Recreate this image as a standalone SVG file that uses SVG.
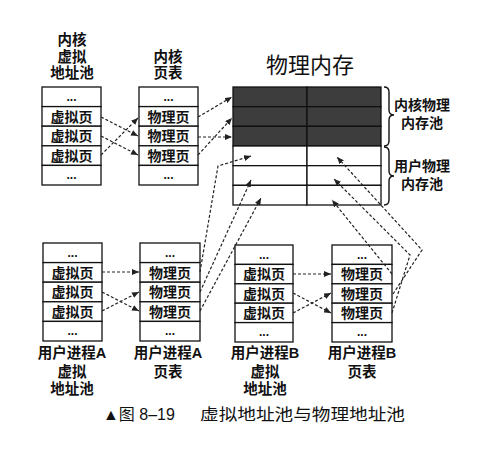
<svg xmlns="http://www.w3.org/2000/svg" width="485" height="451" viewBox="0 0 485 451">
<defs>
<style>
.cell{fill:#fff;stroke:#111;stroke-width:1.3}
.dark{fill:#3d3d3d;stroke:#111;stroke-width:1.3}
.t{font-family:"Liberation Sans","Noto Sans CJK SC",sans-serif;font-size:14px;font-weight:bold;fill:#111;text-anchor:middle}
.dots{font-family:"Liberation Sans",sans-serif;font-size:12px;font-weight:bold;fill:#111;text-anchor:middle}
.lbl{font-family:"Liberation Sans","Noto Sans CJK SC",sans-serif;font-size:14.5px;font-weight:bold;fill:#111;text-anchor:middle}
.title{font-family:"Liberation Sans","Noto Sans CJK SC",sans-serif;font-size:22px;fill:#111;text-anchor:middle}
.cap{font-family:"Liberation Sans","Noto Sans CJK SC",sans-serif;font-size:16px;fill:#111}
.c{fill:none;stroke:#222;stroke-width:1.2;stroke-dasharray:3,2;marker-end:url(#ah)}
.brace{fill:none;stroke:#111;stroke-width:1.4}
</style>
<marker id="ah" markerUnits="userSpaceOnUse" markerWidth="8" markerHeight="6" refX="7" refY="3" orient="auto">
<path d="M0,0 L7,3 L0,6 z" fill="#222"/>
</marker>
</defs>
<rect width="485" height="451" fill="#fff"/>

<g id="kernel-vpool">
<rect class="cell" x="42" y="87" width="59" height="19.6"/>
<rect class="cell" x="42" y="106.6" width="59" height="19.6"/>
<rect class="cell" x="42" y="126.2" width="59" height="19.6"/>
<rect class="cell" x="42" y="145.8" width="59" height="19.6"/>
<rect class="cell" x="42" y="165.4" width="59" height="19.6"/>
<text class="dots" x="71.5" y="101">...</text>
<text class="t" x="71.5" y="121.5">虚拟页</text>
<text class="t" x="71.5" y="141">虚拟页</text>
<text class="t" x="71.5" y="160.5">虚拟页</text>
<text class="dots" x="71.5" y="179">...</text>
<text class="lbl" x="72" y="45">内核</text>
<text class="lbl" x="72" y="61.5">虚拟</text>
<text class="lbl" x="72" y="78">地址池</text>
</g>

<g id="kernel-pt">
<rect class="cell" x="139" y="87" width="59" height="19.6"/>
<rect class="cell" x="139" y="106.6" width="59" height="19.6"/>
<rect class="cell" x="139" y="126.2" width="59" height="19.6"/>
<rect class="cell" x="139" y="145.8" width="59" height="19.6"/>
<rect class="cell" x="139" y="165.4" width="59" height="19.6"/>
<text class="dots" x="168.5" y="101">...</text>
<text class="t" x="168.5" y="121.5">物理页</text>
<text class="t" x="168.5" y="141">物理页</text>
<text class="t" x="168.5" y="160.5">物理页</text>
<text class="dots" x="168.5" y="179">...</text>
<text class="lbl" x="168" y="61.5">内核</text>
<text class="lbl" x="168" y="78">页表</text>
</g>

<g id="phys-mem">
<text class="title" x="310" y="73">物理内存</text>
<rect class="dark" x="233" y="87" width="74" height="19.67"/>
<rect class="dark" x="307" y="87" width="74" height="19.67"/>
<rect class="dark" x="233" y="106.67" width="74" height="19.67"/>
<rect class="dark" x="307" y="106.67" width="74" height="19.67"/>
<rect class="dark" x="233" y="126.33" width="74" height="19.67"/>
<rect class="dark" x="307" y="126.33" width="74" height="19.67"/>
<rect class="cell" x="233" y="146" width="74" height="19.67"/>
<rect class="cell" x="307" y="146" width="74" height="19.67"/>
<rect class="cell" x="233" y="165.67" width="74" height="19.67"/>
<rect class="cell" x="307" y="165.67" width="74" height="19.67"/>
<rect class="cell" x="233" y="185.33" width="74" height="19.67"/>
<rect class="cell" x="307" y="185.33" width="74" height="19.67"/>
</g>

<g id="kernel-phys-pool">
<path class="brace" d="M384,87 Q389,87 389,92 L389,110 Q389,115 394,115 Q389,115 389,120 L389,141 Q389,146 384,146"/>
<text class="t" x="422" y="110">内核物理</text>
<text class="t" x="422" y="128">内存池</text>
</g>

<g id="user-phys-pool">
<path class="brace" d="M384,147 Q389,147 389,152 L389,171 Q389,176 394,176 Q389,176 389,181 L389,200 Q389,205 384,205"/>
<text class="t" x="422" y="171">用户物理</text>
<text class="t" x="422" y="189">内存池</text>
</g>

<g id="userA-vpool">
<rect class="cell" x="43" y="243" width="59" height="19.6"/>
<rect class="cell" x="43" y="262.6" width="59" height="19.6"/>
<rect class="cell" x="43" y="282.2" width="59" height="19.6"/>
<rect class="cell" x="43" y="301.8" width="59" height="19.6"/>
<rect class="cell" x="43" y="321.4" width="59" height="19.6"/>
<text class="dots" x="72.5" y="257">...</text>
<text class="t" x="72.5" y="277.5">虚拟页</text>
<text class="t" x="72.5" y="297">虚拟页</text>
<text class="t" x="72.5" y="316.5">虚拟页</text>
<text class="dots" x="72.5" y="335">...</text>
<text class="lbl" x="72" y="358">用户进程A</text>
<text class="lbl" x="72" y="377">虚拟</text>
<text class="lbl" x="72" y="394">地址池</text>
</g>

<g id="userA-pt">
<rect class="cell" x="140" y="243" width="60" height="19.6"/>
<rect class="cell" x="140" y="262.6" width="60" height="19.6"/>
<rect class="cell" x="140" y="282.2" width="60" height="19.6"/>
<rect class="cell" x="140" y="301.8" width="60" height="19.6"/>
<rect class="cell" x="140" y="321.4" width="60" height="19.6"/>
<text class="dots" x="170" y="257">...</text>
<text class="t" x="170" y="277.5">物理页</text>
<text class="t" x="170" y="297">物理页</text>
<text class="t" x="170" y="316.5">物理页</text>
<text class="dots" x="170" y="335">...</text>
<text class="lbl" x="168" y="358">用户进程A</text>
<text class="lbl" x="168" y="377">页表</text>
</g>

<g id="userB-vpool">
<rect class="cell" x="235" y="245" width="58" height="19.4"/>
<rect class="cell" x="235" y="264.4" width="58" height="19.4"/>
<rect class="cell" x="235" y="283.8" width="58" height="19.4"/>
<rect class="cell" x="235" y="303.2" width="58" height="19.4"/>
<rect class="cell" x="235" y="322.6" width="58" height="19.4"/>
<text class="dots" x="264" y="259">...</text>
<text class="t" x="264" y="279">虚拟页</text>
<text class="t" x="264" y="298.5">虚拟页</text>
<text class="t" x="264" y="318">虚拟页</text>
<text class="dots" x="264" y="336">...</text>
<text class="lbl" x="265" y="358">用户进程B</text>
<text class="lbl" x="265" y="377">虚拟</text>
<text class="lbl" x="265" y="394">地址池</text>
</g>

<g id="userB-pt">
<rect class="cell" x="332" y="245" width="60" height="19.4"/>
<rect class="cell" x="332" y="264.4" width="60" height="19.4"/>
<rect class="cell" x="332" y="283.8" width="60" height="19.4"/>
<rect class="cell" x="332" y="303.2" width="60" height="19.4"/>
<rect class="cell" x="332" y="322.6" width="60" height="19.4"/>
<text class="dots" x="362" y="259">...</text>
<text class="t" x="362" y="279">物理页</text>
<text class="t" x="362" y="298.5">物理页</text>
<text class="t" x="362" y="318">物理页</text>
<text class="dots" x="362" y="336">...</text>
<text class="lbl" x="362" y="358">用户进程B</text>
<text class="lbl" x="362" y="377">页表</text>
</g>

<g id="connectors">
<path class="c" d="M101,117 L138,136"/>
<path class="c" d="M101,136 L138,155"/>
<path class="c" d="M101,155 L138,118"/>
<path class="c" d="M198,117 L232,97"/>
<path class="c" d="M198,137 L232,137"/>
<path class="c" d="M198,155 L232,118"/>
<path class="c" d="M102,272 L139,272"/>
<path class="c" d="M102,292 L139,311"/>
<path class="c" d="M102,311 L139,292"/>
<path class="c" d="M200,272 L218,166 L251,156"/>
<path class="c" d="M200,292 L251,180"/>
<path class="c" d="M200,311 L261,198"/>
<path class="c" d="M293,274 L331,274"/>
<path class="c" d="M293,293 L331,313"/>
<path class="c" d="M293,313 L331,293"/>
<path class="c" d="M392,274 L332,200"/>
<path class="c" d="M392,313 L410,255 L334,179"/>
<path class="c" d="M393,294 L422,250 L337,157"/>
</g>

<g id="caption">
<text class="cap" x="103" y="420">▲图 8–19</text>
<text class="cap" x="200" y="420" textLength="205" lengthAdjust="spacingAndGlyphs">虚拟地址池与物理地址池</text>
</g>
</svg>
